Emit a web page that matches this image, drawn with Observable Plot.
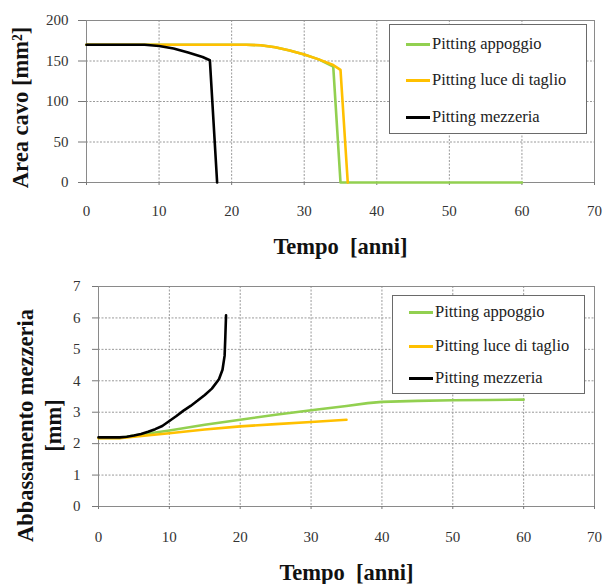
<!DOCTYPE html>
<html>
<head>
<meta charset="utf-8">
<script src="https://cdn.jsdelivr.net/npm/d3@7"></script>
<script src="https://cdn.jsdelivr.net/npm/@observablehq/plot@0.6"></script>
<style>
  body { margin: 0; background: #fff; }
  .wrap { position: relative; width: 604px; }
  .legend { position: absolute; background: #fff; border: 1px solid #6a6a6a; box-sizing: border-box;
            font-family: "Liberation Serif", serif; font-size: 16.5px; color: #222; }
  .legend .row { position: absolute; left: 16px; display: flex; align-items: center; white-space: nowrap; }
  .legend .sw { width: 24px; height: 3px; margin-right: 2px; }
</style>
</head>
<body>
<div id="chartTop" class="wrap"></div>
<div id="chartBottom" class="wrap"></div>
<script>
// ---- data ----
const seriesNames = ["Pitting appoggio", "Pitting luce di taglio", "Pitting mezzeria"];
const seriesColors = ["#92D050", "#FFC000", "#000000"];
const xTicks = [0, 10, 20, 30, 40, 50, 60, 70];
const areaTicks = [0, 50, 100, 150, 200];
const deflTicks = [0, 1, 2, 3, 4, 5, 6, 7];
const xTitle = "Tempo  [anni]";
const areaTitle = "Area cavo [mm²]";
const deflTitle1 = "Abbassamento mezzeria";
const deflTitle2 = "[mm]";

// Area cavo [mm²]
const areaAppoggioT = [0, 10, 20, 22, 24, 26, 28, 30, 32, 34, 35, 40, 50, 60];
const areaAppoggioV = [170, 170, 170, 170, 169.5, 167, 163, 158, 152, 143, 0, 0, 0, 0];
const areaLuceT = [0, 10, 20, 22, 24, 26, 28, 30, 32, 34, 35, 36];
const areaLuceV = [170, 170, 170, 170, 169.5, 167, 163, 158, 152, 145, 139, 0];
const areaMezzT = [0, 8, 10, 12, 14, 16, 17, 18];
const areaMezzV = [170, 170, 168.5, 165.5, 160.5, 155, 151, 0];

// Abbassamento mezzeria [mm]
const deflAppoggioT = [0, 3, 5, 10, 15, 20, 25, 30, 35, 38, 40, 45, 50, 55, 60];
const deflAppoggioV = [2.18, 2.18, 2.26, 2.42, 2.6, 2.76, 2.92, 3.06, 3.2, 3.29, 3.33, 3.36, 3.38, 3.39, 3.4];
const deflLuceT = [0, 3, 5, 10, 15, 20, 25, 30, 35];
const deflLuceV = [2.17, 2.17, 2.22, 2.33, 2.45, 2.55, 2.62, 2.69, 2.76];
const deflMezzT = [0, 3, 4, 5, 6, 7, 8, 9, 10, 11, 12, 13, 14, 15, 16, 17, 17.5, 17.8, 17.9, 18];
const deflMezzV = [2.2, 2.2, 2.22, 2.26, 2.31, 2.38, 2.46, 2.56, 2.72, 2.88, 3.05, 3.2, 3.37, 3.55, 3.75, 4.05, 4.35, 4.8, 5.4, 6.08];

function rows(tArrs, vArrs) {
  const out = [];
  tArrs.forEach((ts, i) => ts.forEach((t, j) => out.push({series: seriesNames[i], t, v: vArrs[i][j]})));
  return out;
}
const areaRows = rows([areaAppoggioT, areaLuceT, areaMezzT], [areaAppoggioV, areaLuceV, areaMezzV]);
const deflRows = rows([deflAppoggioT, deflLuceT, deflMezzT], [deflAppoggioV, deflLuceV, deflMezzV]);

const font = "Liberation Serif";
const titleStyle = {fontWeight: "bold", fontSize: 22.5, fill: "#111", textAnchor: "middle", lineAnchor: "middle"};

function chart({height, mt, mb, ml, mr, data, yDomain, yTicks, xTickPad, yTickSize, yTickPad, xTitleDy, titleMarks}) {
  return Plot.plot({
    width: 604, height,
    marginTop: mt, marginBottom: mb, marginLeft: ml, marginRight: mr,
    style: {fontFamily: font, fontSize: "15px", color: "#333", background: "#fff"},
    x: {domain: [0, 70]},
    y: {domain: yDomain},
    color: {domain: seriesNames, range: seriesColors},
    marks: [
      Plot.gridX(xTicks, {stroke: "#9a9a9a", strokeOpacity: 1, strokeDasharray: "2,1.5"}),
      Plot.gridY(yTicks, {stroke: "#9a9a9a", strokeOpacity: 1, strokeDasharray: "2,1.5"}),
      Plot.frame({stroke: "#8a8a8a"}),
      Plot.axisX(xTicks, {tickSize: 3, tickPadding: xTickPad, stroke: "#777", fill: "#333", label: null}),
      Plot.axisY(yTicks, {tickSize: yTickSize, tickPadding: yTickPad, stroke: "#777", fill: "#333", label: null}),
      Plot.line(data, {x: "t", y: "v", z: "series", stroke: "series", strokeWidth: 2.6}),
      Plot.text([xTitle], {frameAnchor: "bottom", dy: xTitleDy, text: d => d, ...titleStyle}),
      ...titleMarks
    ]
  });
}

const topChart = chart({
  height: 260, mt: 20, mb: 78, ml: 86, mr: 10,
  data: areaRows, yDomain: [0, 200], yTicks: areaTicks,
  xTickPad: 20, yTickSize: 8, yTickPad: 10, xTitleDy: 64,
  titleMarks: [
    Plot.text([areaTitle], {frameAnchor: "left", rotate: -90, dx: -66, dy: 6, text: d => d, ...titleStyle})
  ]
});
const bottomChart = chart({
  height: 324, mt: 26, mb: 78, ml: 98, mr: 10,
  data: deflRows, yDomain: [0, 7], yTicks: deflTicks,
  xTickPad: 22, yTickSize: 6, yTickPad: 12, xTitleDy: 66,
  titleMarks: [
    Plot.text([deflTitle1], {frameAnchor: "left", rotate: -90, dx: -73, dy: 29, text: d => d, ...titleStyle}),
    Plot.text([deflTitle2], {frameAnchor: "left", rotate: -90, dx: -45, dy: 29, text: d => d, ...titleStyle})
  ]
});
document.getElementById("chartTop").appendChild(topChart);
document.getElementById("chartBottom").appendChild(bottomChart);

function legend(container, box, rowYs) {
  const div = document.createElement("div");
  div.className = "legend";
  Object.assign(div.style, {left: box.left + "px", top: box.top + "px", width: box.width + "px", height: box.height + "px"});
  seriesNames.forEach((name, i) => {
    const r = document.createElement("div");
    r.className = "row";
    r.style.top = (rowYs[i] - 10) + "px";
    r.style.height = "20px";
    const sw = document.createElement("span");
    sw.className = "sw";
    sw.style.background = seriesColors[i];
    const tx = document.createElement("span");
    tx.textContent = name;
    r.appendChild(sw); r.appendChild(tx);
    div.appendChild(r);
  });
  container.appendChild(div);
}
legend(document.getElementById("chartTop"), {left: 389, top: 24, width: 198, height: 110}, [19, 55, 92]);
legend(document.getElementById("chartBottom"), {left: 392, top: 35, width: 193, height: 99}, [16, 50, 82]);
</script>
</body>
</html>
